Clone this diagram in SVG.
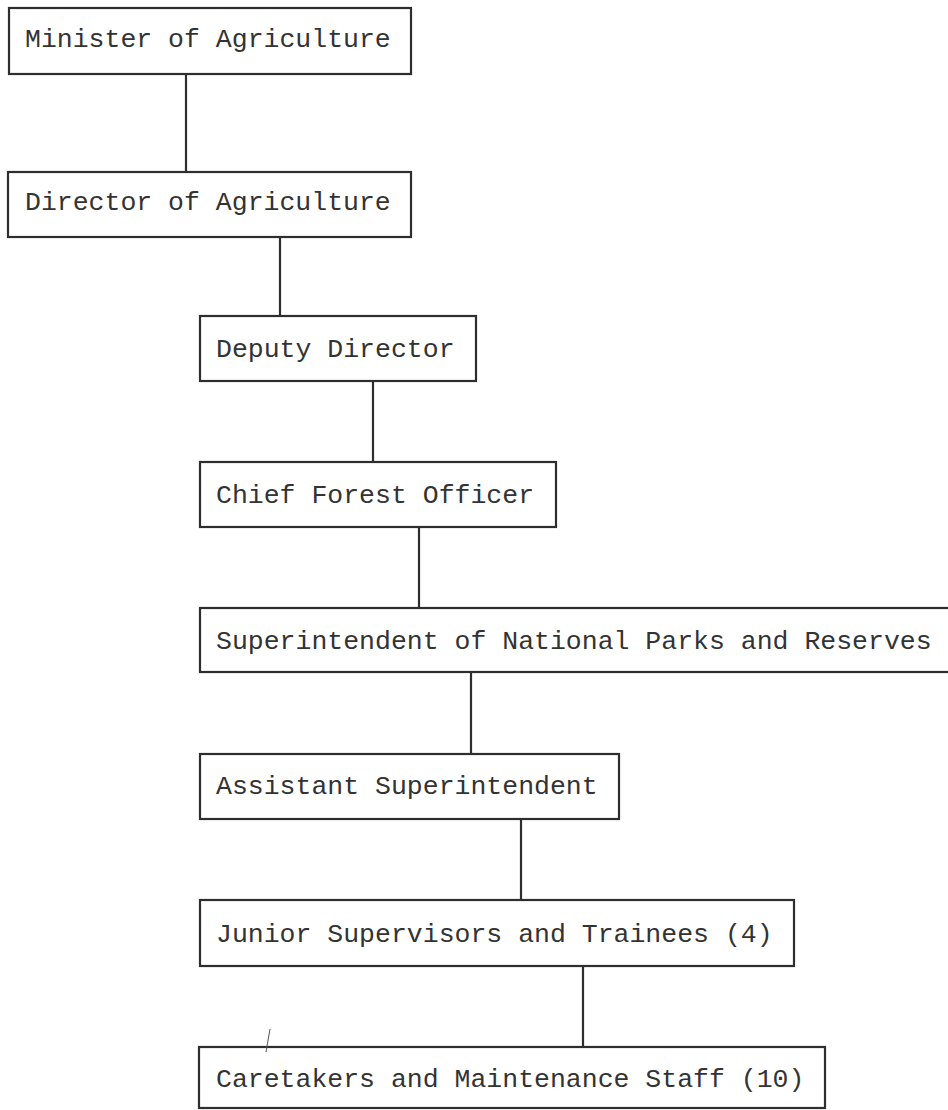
<svg xmlns="http://www.w3.org/2000/svg" width="948" height="1110" viewBox="0 0 948 1110">
  <style>
    .box { fill: #ffffff; stroke: #2e2e2e; stroke-width: 2.2; }
    .lbl { font-family: "Liberation Mono", "DejaVu Sans Mono", monospace; font-size: 26.5px; fill: #333333; }
    .link { stroke: #2e2e2e; stroke-width: 2.2; fill: none; }
  </style>
  <rect width="948" height="1110" fill="#ffffff"/>

  <!-- reporting lines -->
  <g id="connectors">
    <line class="link" x1="186" y1="74" x2="186" y2="172"/>
    <line class="link" x1="280" y1="237" x2="280" y2="316"/>
    <line class="link" x1="373" y1="381" x2="373" y2="462"/>
    <line class="link" x1="419" y1="527" x2="419" y2="608"/>
    <line class="link" x1="471" y1="672" x2="471" y2="754"/>
    <line class="link" x1="521" y1="819" x2="521" y2="900"/>
    <line class="link" x1="583" y1="966" x2="583" y2="1047"/>
  </g>

  <g id="minister">
    <rect class="box" x="9" y="8" width="402" height="66"/>
    <text class="lbl" x="25" y="47">Minister of Agriculture</text>
  </g>
  <g id="director">
    <rect class="box" x="8" y="172" width="403" height="65"/>
    <text class="lbl" x="25" y="210">Director of Agriculture</text>
  </g>
  <g id="deputy-director">
    <rect class="box" x="200" y="316" width="276" height="65"/>
    <text class="lbl" x="216" y="357">Deputy Director</text>
  </g>
  <g id="chief-forest-officer">
    <rect class="box" x="200" y="462" width="356" height="65"/>
    <text class="lbl" x="216" y="503">Chief Forest Officer</text>
  </g>
  <g id="superintendent">
    <rect class="box" x="200" y="608" width="760" height="64"/>
    <text class="lbl" x="216" y="649">Superintendent of National Parks and Reserves</text>
  </g>
  <g id="assistant-superintendent">
    <rect class="box" x="200" y="754" width="419" height="65"/>
    <text class="lbl" x="216" y="794">Assistant Superintendent</text>
  </g>
  <g id="junior-supervisors">
    <rect class="box" x="200" y="900" width="594" height="66"/>
    <text class="lbl" x="216" y="942">Junior Supervisors and Trainees (4)</text>
  </g>
  <g id="caretakers">
    <rect class="box" x="199" y="1047" width="626" height="61"/>
    <text class="lbl" x="216" y="1087">Caretakers and Maintenance Staff (10)</text>
  </g>

  <!-- small pen tick above the last box -->
  <line x1="270" y1="1029" x2="266" y2="1052" stroke="#555555" stroke-width="1"/>
</svg>
